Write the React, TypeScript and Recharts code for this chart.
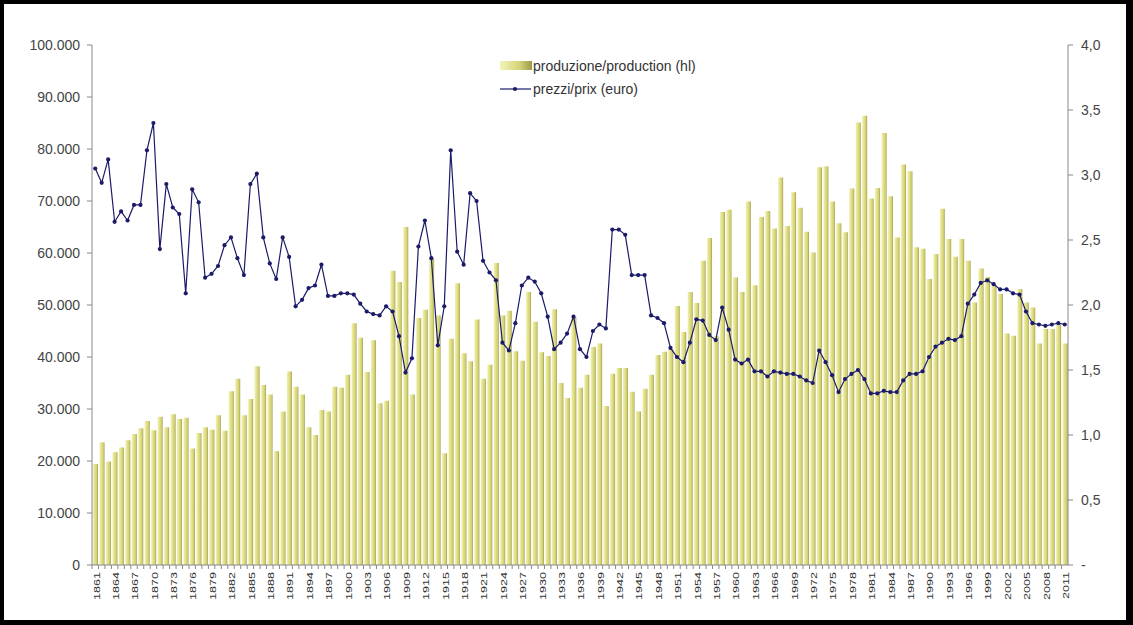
import { Bar, ComposedChart, Line, XAxis, YAxis } from "recharts";

const years = [
  1861, 1862, 1863, 1864, 1865, 1866, 1867, 1868, 1869, 1870,
  1871, 1872, 1873, 1874, 1875, 1876, 1877, 1878, 1879, 1880,
  1881, 1882, 1883, 1884, 1885, 1886, 1887, 1888, 1889, 1890,
  1891, 1892, 1893, 1894, 1895, 1896, 1897, 1898, 1899, 1900,
  1901, 1902, 1903, 1904, 1905, 1906, 1907, 1908, 1909, 1910,
  1911, 1912, 1913, 1914, 1915, 1916, 1917, 1918, 1919, 1920,
  1921, 1922, 1923, 1924, 1925, 1926, 1927, 1928, 1929, 1930,
  1931, 1932, 1933, 1934, 1935, 1936, 1937, 1938, 1939, 1940,
  1941, 1942, 1943, 1944, 1945, 1946, 1947, 1948, 1949, 1950,
  1951, 1952, 1953, 1954, 1955, 1956, 1957, 1958, 1959, 1960,
  1961, 1962, 1963, 1964, 1965, 1966, 1967, 1968, 1969, 1970,
  1971, 1972, 1973, 1974, 1975, 1976, 1977, 1978, 1979, 1980,
  1981, 1982, 1983, 1984, 1985, 1986, 1987, 1988, 1989, 1990,
  1991, 1992, 1993, 1994, 1995, 1996, 1997, 1998, 1999, 2000,
  2001, 2002, 2003, 2004, 2005, 2006, 2007, 2008, 2009, 2010,
  2011,
];

// hl
const production = [
  19400, 23600, 19900, 21700, 22600, 24000, 25200, 26300, 27700, 25900,
  28500, 26500, 29000, 28100, 28300, 22400, 25400, 26500, 26000, 28800,
  25800, 33400, 35800, 28800, 31900, 38200, 34600, 32800, 21900, 29500,
  37200, 34300, 32800, 26500, 25000, 29800, 29500, 34300, 34100, 36600,
  46500, 43700, 37100, 43200, 31100, 31600, 56600, 54400, 65000, 32800,
  47500, 49100, 58900, 48000, 21500, 43500, 54200, 40700, 39200, 47200,
  35800, 38500, 58100, 48000, 48900, 41100, 39300, 52500, 46800, 40900,
  40200, 49200, 35000, 32100, 47700, 34100, 36600, 41900, 42600, 30600,
  36800, 37900, 37900, 33300, 29500, 33900, 36600, 40400, 41000, 41500,
  49800, 44800, 52500, 50400, 58500, 62900, 44000, 67900, 68300, 55300,
  52500, 69900, 53800, 66900, 68100, 64700, 74500, 65200, 71700, 68700,
  64100, 60100, 76500, 76700, 69900, 65700, 64000, 72400, 85100, 86400,
  70500, 72500, 83100, 70900, 63000, 77000, 75700, 61100, 60800, 55000,
  59800, 68500, 62700, 59300, 62700, 58500, 50500, 57000, 55400, 53800,
  52100, 44500, 44100, 53100, 50500, 49500, 42600, 45400, 45400, 46200,
  42600,
];

// euro
const prices = [
  3.05, 2.94, 3.12, 2.64, 2.72, 2.65, 2.77, 2.77, 3.19, 3.4,
  2.43, 2.93, 2.75, 2.7, 2.09, 2.89, 2.79, 2.21, 2.24, 2.3,
  2.46, 2.52, 2.36, 2.23, 2.93, 3.01, 2.52, 2.32, 2.2, 2.52,
  2.37, 1.99, 2.04, 2.13, 2.15, 2.31, 2.07, 2.07, 2.09, 2.09,
  2.08, 2.01, 1.95, 1.93, 1.92, 1.99, 1.95, 1.76, 1.48, 1.59,
  2.45, 2.65, 2.36, 1.69, 1.99, 3.19, 2.41, 2.31, 2.86, 2.8,
  2.34, 2.25, 2.19, 1.71, 1.65, 1.86, 2.15, 2.21, 2.18, 2.09,
  1.91, 1.66, 1.71, 1.78, 1.91, 1.66, 1.6, 1.8, 1.85, 1.82,
  2.58, 2.58, 2.54, 2.23, 2.23, 2.23, 1.92, 1.9, 1.86, 1.67,
  1.6, 1.56, 1.71, 1.89, 1.88, 1.77, 1.73, 1.98, 1.81, 1.58,
  1.55, 1.58, 1.49, 1.49, 1.45, 1.49, 1.48, 1.47, 1.47, 1.45,
  1.42, 1.4, 1.65, 1.56, 1.46, 1.33, 1.43, 1.47, 1.5, 1.43,
  1.32, 1.32, 1.34, 1.33, 1.33, 1.42, 1.47, 1.47, 1.49, 1.6,
  1.68, 1.71, 1.74, 1.73, 1.76, 2.01, 2.08, 2.17, 2.19, 2.16,
  2.12, 2.12, 2.09, 2.08, 1.95, 1.86, 1.85, 1.84, 1.85, 1.86,
  1.85,
];

const labelYears = [
  1861, 1864, 1867, 1870, 1873, 1876, 1879, 1882, 1885, 1888,
  1891, 1894, 1897, 1900, 1903, 1906, 1909, 1912, 1915, 1918,
  1921, 1924, 1927, 1930, 1933, 1936, 1939, 1942, 1945, 1948,
  1951, 1954, 1957, 1960, 1963, 1966, 1969, 1972, 1975, 1978,
  1981, 1984, 1987, 1990, 1993, 1996, 1999, 2002, 2005, 2008,
  2011,
];
const productionTicks = [0, 10000, 20000, 30000, 40000, 50000, 60000, 70000, 80000, 90000, 100000];
const priceTicks = [0, 0.5, 1, 1.5, 2, 2.5, 3, 3.5, 4];

const rows = years.map((year, i) => ({ year, production: production[i], price: prices[i] }));

const FONT = "'Liberation Sans', Arial, sans-serif";
const NAVY = "#1b1b6a";

function fmtHl(v: number) {
  return String(v).replace(/\B(?=(\d{3})+(?!\d))/g, ".");
}

function fmtEuro(v: number) {
  return v === 0 ? "-" : v.toFixed(1).replace(".", ",");
}

function YearTick(props: any) {
  const { x, y, payload } = props;
  const show = labelYears.includes(payload.value);
  return (
    <g>
      <line x1={x - 3.2} x2={x - 3.2} y1={y} y2={y + 4} stroke="#888" />
      {show && (
        <text
          transform={`translate(${x + 1},${y + 7}) rotate(-90) scale(1.4,1)`}
          textAnchor="end"
          dominantBaseline="central"
          fontSize={9}
          fill="#333"
          fontFamily={FONT}
        >
          {payload.value}
        </text>
      )}
    </g>
  );
}

function PriceDot(props: any) {
  const { cx, cy } = props;
  if (cx == null || cy == null) return null;
  return <circle cx={cx} cy={cy} r={2.1} fill={NAVY} />;
}

function LegendBox() {
  return (
    <svg
      width={240}
      height={50}
      style={{ position: "absolute", left: 495, top: 52 }}
    >
      <defs>
        <linearGradient id="legendFill" x1="0" y1="0" x2="1" y2="0">
          <stop offset="0%" stopColor="#f4f4b8" />
          <stop offset="60%" stopColor="#d6d47a" />
          <stop offset="100%" stopColor="#9c9848" />
        </linearGradient>
      </defs>
      <rect x={5} y={9} width={32} height={9} fill="url(#legendFill)" />
      <text x={38} y={14} dominantBaseline="central" fontSize={14} fill="#333" fontFamily={FONT}>
        produzione/production (hl)
      </text>
      <line x1={5} x2={36} y1={37} y2={37} stroke={NAVY} strokeWidth={1.2} />
      <circle cx={20} cy={37} r={2.1} fill={NAVY} />
      <text x={38} y={37} dominantBaseline="central" fontSize={14} fill="#333" fontFamily={FONT}>
        prezzi/prix (euro)
      </text>
    </svg>
  );
}

export default function App() {
  return (
    <div
      style={{
        position: "absolute",
        left: 0,
        top: 0,
        width: 1133,
        height: 625,
        background: "#000",
        fontFamily: FONT,
      }}
    >
      <div
        style={{
          position: "absolute",
          left: 4,
          top: 4,
          width: 1122,
          height: 616,
          background: "#fff",
        }}
      />
      <div style={{ position: "absolute", left: 0, top: 0 }}>
        <ComposedChart
          width={1133}
          height={625}
          data={rows}
          margin={{ top: 45, right: 15, bottom: 20, left: 32 }}
        >
          <defs>
            <linearGradient id="barFill" x1="0" y1="0" x2="1" y2="0">
              <stop offset="0%" stopColor="#f2f2b4" />
              <stop offset="40%" stopColor="#e2e18a" />
              <stop offset="80%" stopColor="#cecc6e" />
              <stop offset="100%" stopColor="#9a9648" />
            </linearGradient>
          </defs>
          <XAxis
            dataKey="year"
            interval={0}
            tick={<YearTick />}
            tickLine={false}
            tickSize={0}
            tickMargin={0}
            axisLine={{ stroke: "#888" }}
            height={40}
          />
          <YAxis
            yAxisId="prod"
            domain={[0, 100000]}
            ticks={productionTicks}
            interval={0}
            tickFormatter={fmtHl}
            width={60}
            tickSize={5}
            tickMargin={7}
            tick={{ fontSize: 14, fill: "#444", fontFamily: FONT }}
            tickLine={{ stroke: "#888" }}
            axisLine={{ stroke: "#888" }}
          />
          <YAxis
            yAxisId="price"
            orientation="right"
            domain={[0, 4]}
            ticks={priceTicks}
            interval={0}
            tickFormatter={fmtEuro}
            width={50}
            tickSize={5}
            tickMargin={8}
            tick={{ fontSize: 14, fill: "#444", fontFamily: FONT }}
            tickLine={{ stroke: "#888" }}
            axisLine={{ stroke: "#888" }}
          />
          <Bar
            yAxisId="prod"
            dataKey="production"
            fill="url(#barFill)"
            barSize={5}
            isAnimationActive={false}
          />
          <Line
            yAxisId="price"
            type="linear"
            dataKey="price"
            stroke={NAVY}
            strokeWidth={1.2}
            dot={<PriceDot />}
            activeDot={false}
            isAnimationActive={false}
          />
        </ComposedChart>
      </div>
      <LegendBox />
    </div>
  );
}
